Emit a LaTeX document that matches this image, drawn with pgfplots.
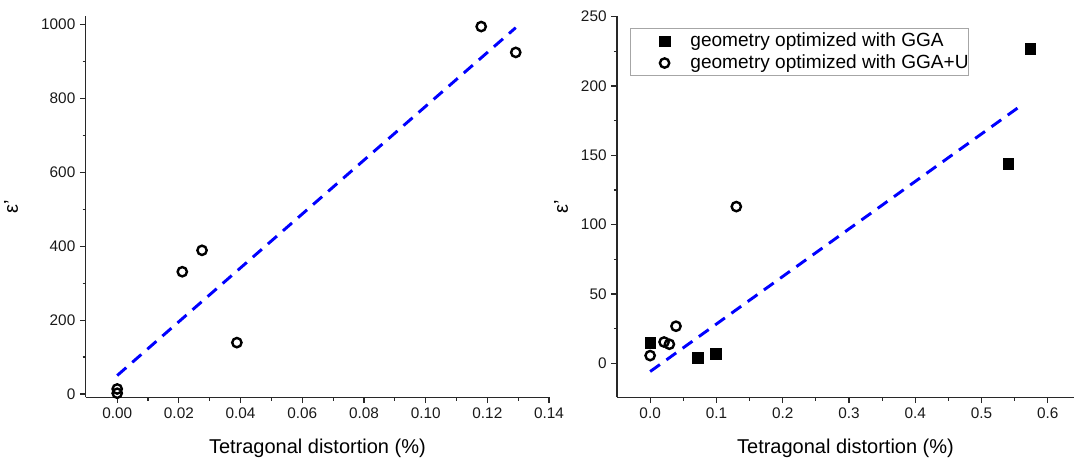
\documentclass[border=0pt]{standalone}
\usepackage{pgfplots}
\pgfplotsset{compat=1.18}
\usepackage{fontspec}
\setmainfont{Liberation Sans}
\definecolor{axgray}{RGB}{40,40,40}
\pgfplotsset{
 myaxis/.style={
  scale only axis,
  axis x line*=bottom, axis y line*=left,
  axis line style={axgray, line width=1.1pt},
  tick align=outside,
  major tick length=4.3pt, minor tick length=2.4pt,
  every tick/.style={axgray, line width=0.9pt},
  tick label style={font=\fontsize{11.5}{13}\selectfont, text=black!90},
  /pgf/number format/assume math mode=true,
  /pgf/number format/1000 sep={},
  label style={font=\fontsize{15}{18}\selectfont},
  minor x tick num=1, minor y tick num=1,
  clip=false,
 },
 circ/.style={only marks, mark=o, mark size=3.5pt, mark options={line width=1.8pt, draw=black}},
 sq/.style={only marks, mark=square*, mark size=4pt, mark options={fill=black, draw=black, line width=0.1pt}},
 fitline/.style={blue, line width=2.2pt, dash pattern=on 9pt off 6pt, mark=none},
}
\pgfplotstableread{
x y
0 13.5
0 2
0.0211 331
0.0275 389
0.0388 139
0.1180 995
0.1292 925
}\leftcirc
\pgfplotstableread{
x y
0 15
0.072 4
0.099 7
0.540 144
0.573 227
}\rightsq
\pgfplotstableread{
x y
0 5.5
0.021 15.3
0.029 13.7
0.039 26.7
0.130 113
}\rightcirc
\begin{document}
\begin{tikzpicture}
\useasboundingbox (0,0) rectangle (805.5pt,-344.25pt);
\begin{axis}[myaxis,
  at={(64.3pt,-298.1pt)}, anchor=south west,
  width=347.5pt, height=286.1pt,
  xmin=-0.0102, xmax=0.14, ymin=-9.5, ymax=1023.6,
  xtick={0,0.02,0.04,0.06,0.08,0.10,0.12,0.14},
  ytick={0,200,400,600,800,1000},
  xticklabel style={/pgf/number format/.cd, fixed, fixed zerofill, precision=2},
  xlabel={Tetragonal distortion (\%)},
  ylabel={ε'},
  xlabel style={at={(axis description cs:0.5,0)}, anchor=center, yshift=-37.9pt},
  ylabel style={at={(axis description cs:0,0.5)}, anchor=center, yshift=56pt},
]
\addplot[fitline] coordinates {(0,50) (0.1292,992)};
\addplot[circ] table[x=x,y=y] {\leftcirc};
\end{axis}
\begin{axis}[myaxis,
  at={(462.75pt,-298.1pt)}, anchor=south west,
  width=342.75pt, height=286.1pt,
  xmin=-0.05, xmax=0.6395, ymin=-24.7, ymax=250.5,
  xtick={0,0.1,0.2,0.3,0.4,0.5,0.6},
  ytick={0,50,100,150,200,250},
  xticklabel style={/pgf/number format/.cd, fixed, fixed zerofill, precision=1},
  xlabel={Tetragonal distortion (\%)},
  ylabel={ε'},
  xlabel style={at={(axis description cs:0.5,0)}, anchor=center, yshift=-37.9pt},
  ylabel style={at={(axis description cs:0,0.5)}, anchor=center, yshift=42pt},
  legend cell align=left,
  legend image code/.code={\path (0pt,0pt) (44pt,0pt); \draw[#1] plot coordinates {(25pt,0pt)};},
  legend style={at={(axis description cs:0.029,0.968)}, anchor=north west,
    draw=gray!70, line width=0.75pt, inner xsep=0pt, inner ysep=2.5pt, row sep=3pt,
    font=\fontsize{14.3}{17}\selectfont,
    nodes={inner xsep=0pt, inner ysep=0pt, text height=10.5pt, text depth=3pt}},
]
\addplot[fitline, forget plot] coordinates {(0,-6) (0.557,185)};
\addplot[sq] table[x=x,y=y] {\rightsq};
\addlegendentry{geometry optimized with GGA}
\addplot[circ] table[x=x,y=y] {\rightcirc};
\addlegendentry{geometry optimized with GGA+U\hspace{12pt}}
\end{axis}
\end{tikzpicture}
\end{document}
